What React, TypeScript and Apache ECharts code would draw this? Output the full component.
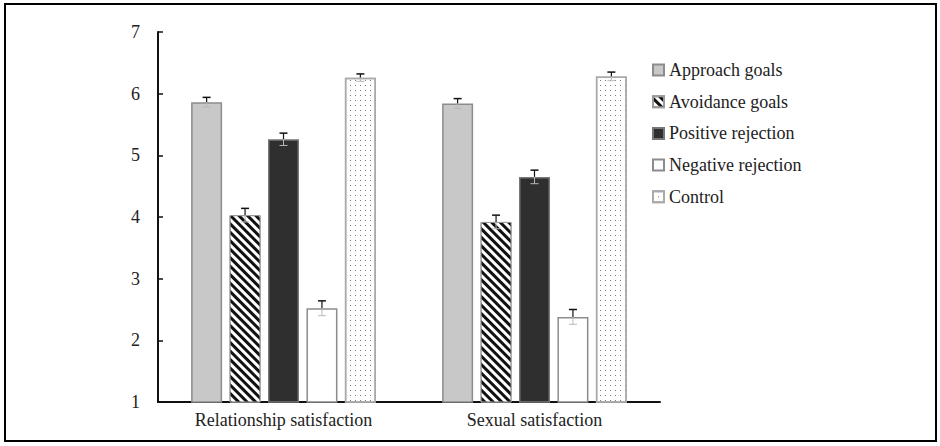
import React, { useEffect, useRef } from "react";
import * as echarts from "echarts";

const categories = ["Relationship satisfaction", "Sexual satisfaction"];
const seriesNames = ["Approach goals", "Avoidance goals", "Positive rejection", "Negative rejection", "Control"];
const approach = [5.86, 5.84];
const avoidance = [4.03, 3.92];
const positive = [5.26, 4.65];
const negative = [2.52, 2.38];
const control = [6.26, 6.28];
const approachErr = [0.08, 0.08];
const avoidanceErr = [0.11, 0.11];
const positiveErr = [0.1, 0.11];
const negativeErr = [0.12, 0.12];
const controlErr = [0.06, 0.07];
const yTicks = [1, 2, 3, 4, 5, 6, 7];

const FONT = "'Liberation Serif', 'Times New Roman', serif";
const BAR_W = 31;
const BAR_GAP = 0.24;

export default function App() {
  const ref = useRef<HTMLDivElement>(null);
  useEffect(() => {
    if (!ref.current) return;
    const chart = echarts.init(ref.current, null, { renderer: "svg" });
    const values = [approach, avoidance, positive, negative, control];
    const errs = [approachErr, avoidanceErr, positiveErr, negativeErr, controlErr];
    const styles: any[] = [
      { color: "#c8c8c8", borderColor: "#8c8c8c", borderWidth: 1.5 },
      {
        color: "#ffffff", borderColor: "#9a9a9a", borderWidth: 1,
        decal: { symbol: "rect", symbolSize: 1, dashArrayX: [1, 0], dashArrayY: [2.6, 2.6], rotation: Math.PI / 4, color: "#111" },
      },
      { color: "#2f2f2f", borderColor: "#777", borderWidth: 1.5 },
      { color: "#ffffff", borderColor: "#8c8c8c", borderWidth: 1.5 },
      {
        color: "#ffffff", borderColor: "#aaaaaa", borderWidth: 1.5,
        decal: { symbol: "rect", symbolSize: 1, dashArrayX: [1, 4], dashArrayY: [1, 4], color: "#7a7a7a" },
      },
    ];
    const barSeries = seriesNames.map((name, i) => ({
      name,
      type: "bar",
      data: values[i],
      barWidth: BAR_W,
      barGap: `${BAR_GAP * 100}%`,
      itemStyle: styles[i],
    }));
    const errData: number[][] = [];
    for (let s = 0; s < 5; s++) {
      for (let c = 0; c < categories.length; c++) {
        errData.push([c, s, values[s][c], errs[s][c]]);
      }
    }
    const errSeries = {
      type: "custom",
      name: "err",
      data: errData,
      z: 10,
      renderItem: (params: any, api: any) => {
        const c = api.value(0);
        const s = api.value(1);
        const m = api.value(2);
        const e = api.value(3);
        const step = BAR_W * (1 + BAR_GAP);
        const center = api.coord([c, m]);
        const x = center[0] + (s - 2) * step;
        const yMid = center[1];
        const yTop = api.coord([c, m + e])[1];
        const yBot = api.coord([c, m - e])[1];
        const hw = 4;
        return {
          type: "group",
          children: [
            { type: "line", shape: { x1: x, y1: yTop, x2: x, y2: yMid }, style: { stroke: "#111", lineWidth: 1.2 } },
            { type: "line", shape: { x1: x - hw, y1: yTop, x2: x + hw, y2: yTop }, style: { stroke: "#111", lineWidth: 1.5 } },
            { type: "line", shape: { x1: x, y1: yMid, x2: x, y2: yBot }, style: { stroke: "#b8b8b8", lineWidth: 1 } },
            { type: "line", shape: { x1: x - hw, y1: yBot, x2: x + hw, y2: yBot }, style: { stroke: "#b8b8b8", lineWidth: 1 } },
          ],
        };
      },
    };
    chart.setOption({
      animation: false,
      textStyle: { fontFamily: FONT },
      grid: { left: 158, right: 280, top: 32, bottom: 44, containLabel: false },
      legend: {
        data: seriesNames,
        orient: "vertical",
        left: 647,
        top: 56,
        itemWidth: 11,
        itemHeight: 11,
        itemGap: 13.7,
        icon: "rect",
        textStyle: { fontFamily: FONT, fontSize: 18, lineHeight: 18, color: "#222" },
      },
      xAxis: {
        type: "category",
        data: categories,
        axisLine: { lineStyle: { color: "#111", width: 2 } },
        axisTick: { show: false },
        axisLabel: { fontFamily: FONT, fontSize: 18, color: "#222", margin: 9 },
      },
      yAxis: {
        type: "value",
        min: 1,
        max: 7,
        interval: 1,
        splitLine: { show: false },
        axisLine: { show: true, lineStyle: { color: "#111", width: 2 } },
        axisTick: { show: true, inside: true, length: 5, lineStyle: { color: "#111", width: 1.5 } },
        axisLabel: { fontFamily: FONT, fontSize: 18, color: "#222", margin: 18, formatter: (v: number) => (yTicks.includes(v) ? String(v) : "") },
      },
      graphic: [
        { type: "rect", shape: { x: 5, y: 4, width: 931, height: 437 }, style: { fill: "none", stroke: "#000", lineWidth: 2 }, silent: true },
      ],
      series: [...barSeries, errSeries],
    });
    return () => chart.dispose();
  }, []);
  return <div ref={ref} style={{ position: "absolute", left: 0, top: 0, width: 940, height: 446 }} />;
}
